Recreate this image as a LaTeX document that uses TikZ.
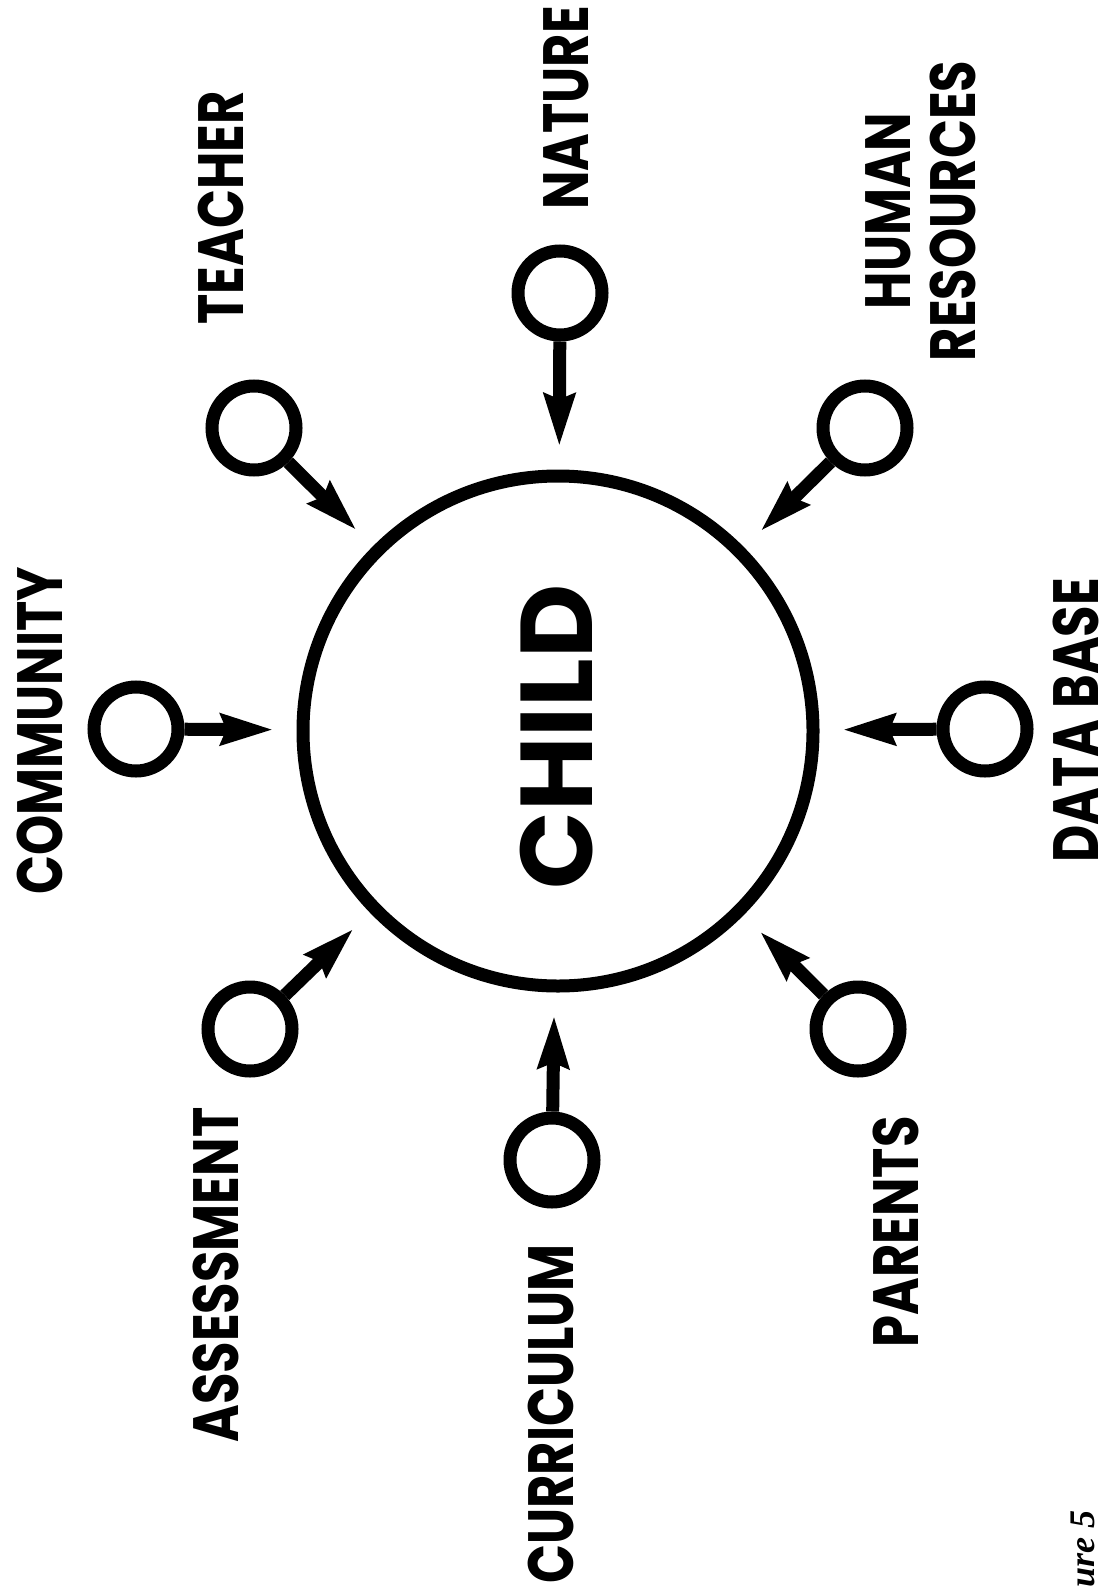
\documentclass[tikz,border=0pt]{standalone}
\usepackage{fontspec}
\setmainfont{Poppins}
\newfontfamily\tagfont[FakeStretch=0.8]{Poppins}
\newfontfamily\capfont{Liberation Serif}
\usetikzlibrary{arrows.meta}

\tikzset{
	hub/.style={circle, draw, line width=6.5pt, minimum size=255pt, inner sep=0pt},
	spoke/.style={circle, draw, line width=6.5pt, minimum size=42pt, inner sep=0pt},
	feed/.style={line width=6.5pt, -{Stealth[length=26pt,width=15pt,inset=2.5pt]}, shorten >=11.5pt},
	tag/.style={rotate=90, inner sep=0pt, font=\tagfont\fontsize{32}{32.5}\selectfont\bfseries},
}

\begin{document}
\begin{tikzpicture}[x=0.5pt, y=-0.5pt]
		\clip (0,0) rectangle (1107,1593);
		
		\node[hub] (child) at (558,731) {};
		\node[rotate=90, inner sep=0pt, font=\fontsize{51}{51}\selectfont\bfseries]
			(childword) at (557,737) {CHILD};
		
		\node[spoke] (teacher) at (254,428) {};
		\node[spoke] (nature) at (560,293) {};
		\node[spoke] (human) at (865,428) {};
		\node[spoke] (community) at (136,729) {};
		\node[spoke] (database) at (985,729) {};
		\node[spoke] (assessment) at (250,1029) {};
		\node[spoke] (curriculum) at (552,1160) {};
		\node[spoke] (parents) at (858,1029) {};
		
		\draw[feed] (teacher) -- (child);
		\draw[feed] (nature) -- (child);
		\draw[feed] (human) -- (child);
		\draw[feed] (community) -- (child);
		\draw[feed] (database) -- (child);
		\draw[feed] (assessment) -- (child);
		\draw[feed] (curriculum) -- (child);
		\draw[feed] (parents) -- (child);
		
		\node[tag] (teachertag) at (221,208) {TEACHER};
		\node[tag, anchor=west] (naturetag) at (566,210) {NATURE};
		\node[tag, align=center] (humantag) at (921,211) {HUMAN\\RESOURCES};
		\node[tag] (communitytag) at (40,731) {COMMUNITY};
		\node[tag] (databasetag) at (1076,720) {DATA BASE};
		\node[tag] (assessmenttag) at (216,1275) {ASSESSMENT};
		\node[tag, anchor=west] (curriculumtag) at (551,1584) {CURRICULUM};
		\node[tag] (parentstag) at (896,1232) {PARENTS};
		
		\node[rotate=90, anchor=east, inner sep=0pt, font=\capfont\fontsize{18}{18}\selectfont\bfseries\itshape]
			(caption) at (1083,1510) {ure 5};
	\end{tikzpicture}
\end{document}
